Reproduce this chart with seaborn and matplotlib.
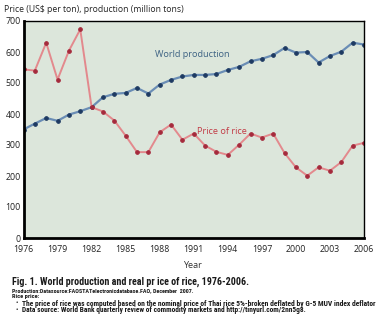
import matplotlib
matplotlib.use("Agg")
import matplotlib.pyplot as plt
import seaborn as sns
import pandas as pd
from matplotlib import font_manager

years = list(range(1976, 2007))
production = [350, 369, 387, 378, 398, 409, 422, 454, 465, 468, 484, 466, 495, 510,
              521, 526, 526, 529, 542, 552, 570, 578, 590, 613, 598, 600, 566, 587,
              601, 630, 624]
price = [544, 540, 630, 511, 604, 673, 422, 408, 379, 330, 277, 277, 341, 366,
         317, 337, 298, 278, 268, 301, 337, 324, 337, 274, 228, 201, 228, 217,
         245, 298, 307]
x_ticks = [1976, 1979, 1982, 1985, 1988, 1991, 1994, 1997, 2000, 2003, 2006]
y_ticks = [0, 100, 200, 300, 400, 500, 600, 700]

df = pd.DataFrame({"Year": years, "World production": production, "Price of rice": price})

names = {f.name for f in font_manager.fontManager.ttflist}
narrow = 'Roboto Condensed' if 'Roboto Condensed' in names else 'DejaVu Sans'

sns.set_style("white")
plt.rcParams['font.family'] = ['Open Sans', 'DejaVu Sans']

fig = plt.figure(figsize=(3.78, 3.28), dpi=100)
ax = fig.add_axes([23.5/378, 1-238/328, (364-23.5)/378, (238-21)/328])
ax.set_facecolor('#dce6db')

sns.lineplot(data=df, x="Year", y="World production", ax=ax, color='#6a8db5', lw=1.6,
             marker='o', markersize=2.6, markerfacecolor='#1e3a62', markeredgecolor='#1e3a62')
sns.lineplot(data=df, x="Year", y="Price of rice", ax=ax, color='#e3898d', lw=1.4,
             marker='o', markersize=2.6, markerfacecolor='#a52a3c', markeredgecolor='#a52a3c')

ax.set_xlim(1976, 2006)
ax.set_ylim(0, 700)
ax.set_xticks(x_ticks)
ax.set_yticks(y_ticks)
ax.set_xticklabels([str(t) for t in x_ticks], fontsize=6.3, color='#222222')
ax.set_yticklabels([str(t) for t in y_ticks], fontsize=6.3, color='#222222')
ax.tick_params(axis='y', direction='in', length=6, width=2, pad=2, colors='black', labelcolor='#222222')
ax.tick_params(axis='x', direction='in', length=4.5, width=1.6, pad=5, colors='black', labelcolor='#222222')
ax.set_xlabel("")
ax.set_ylabel("")
for s in ['left', 'bottom']:
    ax.spines[s].set_linewidth(2.0)
    ax.spines[s].set_color('black')
for s in ['top', 'right']:
    ax.spines[s].set_linewidth(1.0)
    ax.spines[s].set_color('black')

ax.text(1987.6, 593, "World production", fontsize=6.6, color='#3d6283', va='center', ha='left')
ax.text(1991.3, 344, "Price of rice", fontsize=6.6, color='#c23a44', va='center', ha='left')

fig.text(4/378, 1-10/328, "Price (US$ per ton), production (million tons)", fontsize=6.2,
         color='#222222', va='center', ha='left')
fig.text(192/378, 1-265/328, "Year", fontsize=6.6, color='#333333', va='center', ha='center')

cap = [narrow, 'DejaVu Sans']
fig.text(12.5/378, 1-281.5/328, "Fig. 1. World production and real pr ice of rice, 1976-2006.",
         fontsize=7.2, fontweight='bold', family=cap, color='#1a1a1a', va='center', ha='left')
fig.text(12.5/378, 1-290.5/328, "Production:Datasource:FAOSTATelectronicdatabase.FAO, December  2007.",
         fontsize=4.3, fontweight='bold', family=cap, color='#1a1a1a', va='center', ha='left')
fig.text(12.5/378, 1-296.8/328, "Rice price:",
         fontsize=4.6, fontweight='bold', family=cap, color='#1a1a1a', va='center', ha='left')
fig.text(16/378, 1-303.8/328, "\u2022", fontsize=5.0, family=cap, color='#1a1a1a', va='center', ha='left')
fig.text(21.5/378, 1-303.8/328,
         "The price of rice was computed based on the nominal price of Thai rice 5%-broken deflated by G-5 MUV index deflator",
         fontsize=5.4, fontweight='bold', family=cap, color='#1a1a1a', va='center', ha='left')
fig.text(16/378, 1-310.3/328, "\u2022", fontsize=5.0, family=cap, color='#1a1a1a', va='center', ha='left')
fig.text(21.5/378, 1-310.3/328,
         "Data source: World Bank quarterly review of commodity markets and http://tinyurl.com/2nn5g8.",
         fontsize=5.3, fontweight='bold', family=cap, color='#1a1a1a', va='center', ha='left')

fig.savefig("out.png", dpi=100, facecolor='white')
